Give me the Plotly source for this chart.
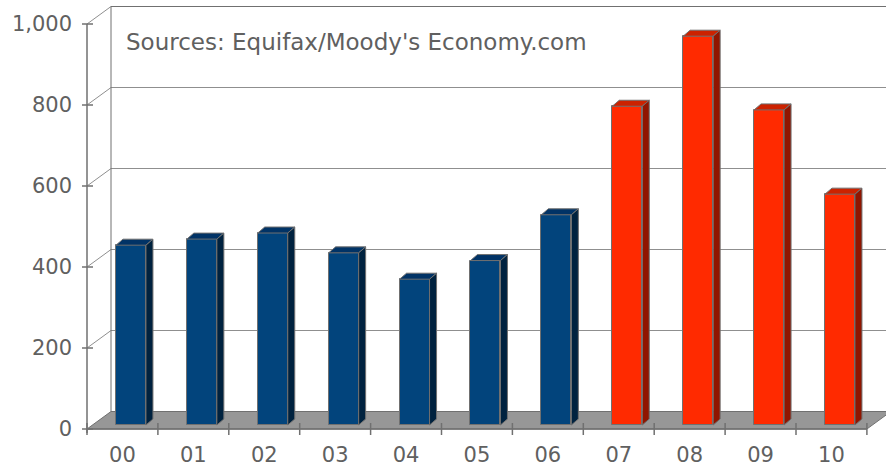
import plotly.graph_objects as go

# ---------------- data ----------------
categories = ["00", "01", "02", "03", "04", "05", "06", "07", "08", "09", "10"]
values = [444, 459, 474, 425, 360, 406, 519, 787, 960, 778, 570]
highlight_from = "07"          # categories from here on are drawn in red
y_ticks = [0, 200, 400, 600, 800, 1000]
y_tick_labels = ["0", "200", "400", "600", "800", "1,000"]
source_text = "Sources: Equifax/Moody's Economy.com"

# ---------------- geometry (pixel scale -> data units) ----------------
W, H = 886, 469
PX = 70.9        # px per category
PY = 0.405       # px per value unit
L_M, R_M, T_M, B_M = 80, 0, 6, 33
plot_w = W - L_M - R_M
plot_h = H - T_M - B_M
x_min = -0.5 - 7 / PX
x_max = x_min + plot_w / PX
y_min = -7 / PY
y_max = y_min + plot_h / PY

DX = 24 / PX     # wall depth
DY = 17.5 / PY
BAR_OFF = 8.5 / PX
BAR_W = 30 / PX
BAR_BASE = 4 / PY
BDX = 7 / PX     # bar depth
BDY = 6 / PY

EDGE = "#707070"
GRID = "#8f8f8f"
TEXT = "#606060"
FONT = "DejaVu Sans, Verdana, sans-serif"

colors = {
    "blue": ("#02447C", "#013366", "#00223F"),
    "red": ("#FF2A00", "#CC2200", "#901500"),
}
hi_idx = categories.index(highlight_from)

fig = go.Figure()

# front faces (bars)
xs = [i + BAR_OFF for i in range(len(categories))]
front_cols = [colors["red" if i >= hi_idx else "blue"][0] for i in range(len(categories))]
fig.add_trace(go.Bar(
    x=xs, y=values, base=[BAR_BASE] * len(values), width=BAR_W,
    marker=dict(color=front_cols, line=dict(color=EDGE, width=1)),
    hoverinfo="skip", showlegend=False,
))

# top and side faces
for i, v in enumerate(values):
    c = colors["red" if i >= hi_idx else "blue"]
    x0 = xs[i] - BAR_W / 2
    x1 = xs[i] + BAR_W / 2
    top = BAR_BASE + v
    fig.add_trace(go.Scatter(
        x=[x0, x1, x1 + BDX, x0 + BDX, x0],
        y=[top, top, top + BDY, top + BDY, top],
        fill="toself", fillcolor=c[1], mode="lines",
        line=dict(color=EDGE, width=1), hoverinfo="skip", showlegend=False,
    ))
    fig.add_trace(go.Scatter(
        x=[x1, x1 + BDX, x1 + BDX, x1, x1],
        y=[BAR_BASE, BAR_BASE + BDY, top + BDY, top, BAR_BASE],
        fill="toself", fillcolor=c[2], mode="lines",
        line=dict(color=EDGE, width=1), hoverinfo="skip", showlegend=False,
    ))

shapes = []
# back wall gridlines
for v in y_ticks[1:]:
    shapes.append(dict(type="line", layer="below", xref="x", yref="y",
                       x0=-0.5 + DX, x1=x_max + 1, y0=v + DY, y1=v + DY,
                       line=dict(color=EDGE if v == y_ticks[-1] else GRID, width=1)))
    # side-wall diagonals
    shapes.append(dict(type="line", layer="below", xref="x", yref="y",
                       x0=-0.5, x1=-0.5 + DX, y0=v, y1=v + DY,
                       line=dict(color=GRID, width=1)))
# back wall left edge
shapes.append(dict(type="line", layer="below", xref="x", yref="y",
                   x0=-0.5 + DX, x1=-0.5 + DX, y0=DY, y1=y_ticks[-1] + DY,
                   line=dict(color=EDGE, width=1)))
# floor
n = len(categories)
fx0, fx1 = -0.5, n - 0.5
shapes.append(dict(type="path", layer="below", xref="x", yref="y",
                   path=f"M {fx0} 0 L {fx1} 0 L {fx1 + DX} {DY} L {fx0 + DX} {DY} Z",
                   fillcolor="#979797", line=dict(color=EDGE, width=1)))
# front axis line
shapes.append(dict(type="line", layer="above", xref="x", yref="y",
                   x0=-0.5, x1=-0.5, y0=-10, y1=y_ticks[-1],
                   line=dict(color=EDGE, width=1.5)))
# y tick marks
for v in y_ticks:
    shapes.append(dict(type="line", layer="above", xref="x", yref="y",
                       xsizemode="pixel", xanchor=-0.5, x0=-5, x1=6, y0=v, y1=v,
                       line=dict(color=EDGE, width=1.5)))
# x tick marks
for k in range(n + 1):
    shapes.append(dict(type="line", layer="above", xref="x", yref="y",
                       ysizemode="pixel", yanchor=0, y0=-6, y1=6,
                       x0=k - 0.5, x1=k - 0.5,
                       line=dict(color=EDGE, width=1.5)))
# front floor edge
shapes.append(dict(type="line", layer="above", xref="x", yref="y",
                   x0=fx0, x1=fx1, y0=0, y1=0, line=dict(color=EDGE, width=1.5)))

fig.update_layout(
    width=W, height=H, autosize=False,
    margin=dict(l=L_M, r=R_M, t=T_M, b=B_M, pad=0),
    plot_bgcolor="white", paper_bgcolor="white",
    shapes=shapes, bargap=0, showlegend=False,
    font=dict(family=FONT, size=21, color=TEXT),
    xaxis=dict(range=[x_min, x_max], tickvals=list(range(n)), ticktext=categories,
               showgrid=False, zeroline=False, showline=False, ticks="",
               ticklabelstandoff=4, tickfont=dict(size=21, color=TEXT, family=FONT)),
    yaxis=dict(range=[y_min, y_max], tickvals=y_ticks, ticktext=y_tick_labels,
               showgrid=False, zeroline=False, showline=False, ticks="",
               ticklabelstandoff=7, tickfont=dict(size=21, color=TEXT, family=FONT)),
    annotations=[dict(text=source_text, xref="x", yref="y",
                      x=(124 - 87) / PX - 0.5, y=(429 - 42) / PY,
                      xanchor="left", yanchor="middle", showarrow=False,
                      font=dict(size=23, color=TEXT, family=FONT))],
)

fig.write_html("out.html", config={"displayModeBar": False},
               post_script="document.body.style.margin='0';")
